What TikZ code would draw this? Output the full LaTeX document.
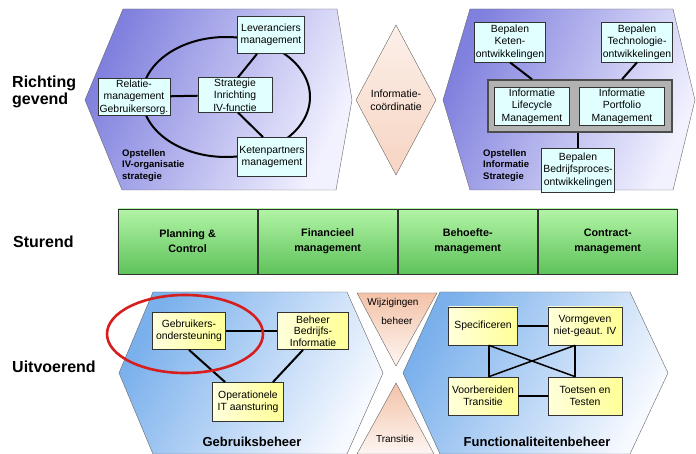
\documentclass[tikz,border=0pt]{standalone}
\usepackage{fontspec}
\setmainfont{Liberation Sans}
\usepackage{tikz}
\usepackage{xcolor}
\usetikzlibrary{positioning}
\definecolor{HexViolet}{HTML}{8080DE}
\definecolor{HexVioletLight}{HTML}{F2F2FF}
\definecolor{HexBlue}{HTML}{7AB0EC}
\definecolor{HexBlueLight}{HTML}{F6F9FF}
\definecolor{BoxCyan}{HTML}{E2FFFF}
\definecolor{BoxYellowLight}{HTML}{FFFFDC}
\definecolor{BoxYellow}{HTML}{FFFF96}
\definecolor{BarGreenTop}{HTML}{B2F4A6}
\definecolor{BarGreenBottom}{HTML}{5EC25A}
\definecolor{Peach}{HTML}{F3C2A8}
\definecolor{CircleRed}{HTML}{D61E1E}

\begin{document}
\begin{tikzpicture}[x=1pt, y=-1pt,
                hexviolet/.style={draw=black!60, thin, left color=HexViolet, right color=HexVioletLight, shading angle=65},
                hexblue/.style={draw=black!60, thin, left color=HexBlue, right color=HexBlueLight, shading angle=60},
                peachtri/.style={draw=black!60, thin, top color=Peach, bottom color=Peach!15},
                cyanbox/.style={draw=black!80, line width=0.8pt, fill=BoxCyan, align=center, inner sep=1pt, font=\fontsize{10.4}{12.4}\selectfont},
                yellowbox/.style={draw=black!80, line width=0.8pt, left color=BoxYellowLight, right color=BoxYellow, align=center, inner sep=1pt, font=\fontsize{10.4}{11.7}\selectfont},
                graybox/.style={draw=black!70, line width=1.4pt, fill=black!30},
                barcell/.style={draw=black!80, line width=0.8pt, top color=BarGreenTop, bottom color=BarGreenBottom, minimum width=139.25pt, minimum height=65pt, align=center, font=\fontsize{10.8}{15}\bfseries},
                link/.style={line width=2pt},
                thinlink/.style={line width=1.5pt},
                rowlabel/.style={anchor=west, align=left, inner sep=0pt, font=\fontsize{16}{17.5}\bfseries},
                smalllabel/.style={anchor=north west, align=left, inner sep=0pt, font=\fontsize{9.5}{11.5}\bfseries},
                domainlabel/.style={inner sep=0pt, font=\fontsize{13}{15}\bfseries},
                tinylabel/.style={inner sep=0pt, font=\fontsize{10}{12}\selectfont}
            ]
            \useasboundingbox (0,0) rectangle (696,454);

            % row labels
            \node[rowlabel] (richting) at (12,92) {Richting\\gevend};
            \node[rowlabel] (sturend) at (13,242) {Sturend};
            \node[rowlabel] (uitvoerend) at (12,367) {Uitvoerend};

            % richtinggevend: IV-organisatie
            \draw[hexviolet] (85,100) -- (123,9) -- (337,9) -- (352,100) -- (336,190) -- (122,190) -- cycle;
            \draw[link] (226,97) ellipse [x radius=84pt, y radius=60pt];
            \node[cyanbox, minimum width=67pt, minimum height=37pt] (lev) at (271,35) {Leveranciers\\management};
            \node[cyanbox, minimum width=72pt, minimum height=35pt] (rel) at (134,97) {Relatie-\\management\\Gebruikersorg.};
            \node[cyanbox, minimum width=74pt, minimum height=31pt] (strat) at (235,95) {Strategie\\Inrichting\\IV-functie};
            \node[cyanbox, minimum width=69pt, minimum height=39pt] (keten) at (272,157) {Ketenpartners\\management};
            \draw[link] (rel) -- (strat);
            \draw[link] ([xshift=3pt]strat.north) -- ([xshift=-14pt]lev.south);
            \draw[link] ([xshift=3pt]strat.south) -- ([xshift=-9pt]keten.north);
            \node[smalllabel] (ivorg) at (122,149) {Opstellen\\IV-organisatie\\strategie};

            % informatiecoordinatie
            \draw[peachtri, top color=Peach!25, bottom color=Peach!70] (396,25) -- (436,100) -- (396,175) -- (356,100) -- cycle;
            \node[tinylabel, align=center, font=\fontsize{10.5}{13}\selectfont] (infocoord) at (396,100) {Informatie-\\co\"ordinatie};

            % richtinggevend: informatiestrategie
            \draw[hexviolet] (443,100) -- (470,9) -- (673,9) -- (695,100) -- (673,190) -- (470,190) -- cycle;
            \node[cyanbox, minimum width=70pt, minimum height=40pt] (bketen) at (510,42) {Bepalen\\Keten-\\ontwikkelingen};
            \node[cyanbox, minimum width=71pt, minimum height=40pt] (btech) at (637,42) {Bepalen\\Technologie-\\ontwikkelingen};
            \node[graybox, minimum width=184pt, minimum height=52pt] (ims) at (580,106) {};
            \node[cyanbox, minimum width=75pt, minimum height=38pt] (ilm) at (532,106) {Informatie\\Lifecycle\\Management};
            \node[cyanbox, minimum width=85pt, minimum height=38pt] (ipm) at (622,106) {Informatie\\Portfolio\\Management};
            \node[cyanbox, minimum width=73pt, minimum height=44pt] (bbedrijf) at (578,170) {Bepalen\\Bedrijfsproces-\\ontwikkelingen};
            \draw[link] (bketen.south) -- (ims.north -| ilm.north);
            \draw[link] (btech.south) -- (ims.north -| ipm.north);
            \draw[link] (ims.south -| bbedrijf.north) -- (bbedrijf.north);
            \node[smalllabel] (infostrat) at (483,149) {Opstellen\\Informatie\\Strategie};

            % sturend
            \node[barcell] (plan) at (187.6,241.5) {Planning \&\\Control};
            \node[barcell, right=0pt of plan] (fin) {Financieel\\management};
            \node[barcell, right=0pt of fin] (behoefte) {Behoefte-\\management};
            \node[barcell, right=0pt of behoefte] (contract) {Contract-\\management};

            % uitvoerend: gebruiksbeheer
            \draw[hexblue] (119,373) -- (153,292) -- (347,292) -- (383,373) -- (347,454) -- (153,454) -- cycle;
            \node[yellowbox, minimum width=73pt, minimum height=37pt] (gebr) at (189,331) {Gebruikers-\\ondersteuning};
            \node[yellowbox, minimum width=71pt, minimum height=37pt] (bbi) at (313,331) {Beheer\\Bedrijfs-\\Informatie};
            \node[yellowbox, minimum width=71pt, minimum height=39pt] (opit) at (248,402) {Operationele\\IT aansturing};
            \draw[link] (gebr) -- (bbi);
            \draw[link] (gebr.south) -- ([xshift=13pt]opit.north west);
            \draw[link] ([xshift=-10pt]bbi.south) -- ([xshift=-11pt]opit.north east);
            \node[domainlabel] (gbeheer) at (252,442) {Gebruiksbeheer};

            % wijzigingen en transitie
            \draw[peachtri] (357,293) -- (437,293) -- (396,366) -- cycle;
            \draw[peachtri] (396,383) -- (434,454) -- (357,454) -- cycle;
            \node[tinylabel] (wijz) at (393,303) {Wijzigingen};
            \node[tinylabel] (wbeheer) at (397,321) {beheer};
            \node[tinylabel] (transitie) at (395,439) {Transitie};

            % uitvoerend: functionaliteitenbeheer
            \draw[hexblue] (403,373) -- (440,292) -- (630,292) -- (668,373) -- (630,454) -- (440,454) -- cycle;
            \node[yellowbox, minimum width=69pt, minimum height=38pt] (spec) at (483,326) {Specificeren};
            \node[yellowbox, minimum width=74pt, minimum height=38pt] (vorm) at (585,326) {Vormgeven\\niet-geaut. IV};
            \node[yellowbox, minimum width=70pt, minimum height=38pt] (voor) at (483,396) {Voorbereiden\\Transitie};
            \node[yellowbox, minimum width=74pt, minimum height=38pt] (toets) at (585,396) {Toetsen en\\Testen};
            \draw[thinlink] (spec) -- (vorm);
            \draw[thinlink] (voor) -- (toets);
            \draw[thinlink] ([xshift=6pt]spec.south) -- ([xshift=6pt]voor.north);
            \draw[thinlink] ([xshift=-10pt]vorm.south) -- ([xshift=-10pt]toets.north);
            \draw[thinlink] ([xshift=6pt]spec.south) -- ([xshift=-10pt]toets.north);
            \draw[thinlink] ([xshift=-10pt]vorm.south) -- ([xshift=6pt]voor.north);
            \node[domainlabel] (fbeheer) at (537,442) {Functionaliteitenbeheer};

            \draw[CircleRed, line width=2.6pt] (185,334) ellipse [x radius=78pt, y radius=39pt]; % focus

        \end{tikzpicture}
\end{document}
